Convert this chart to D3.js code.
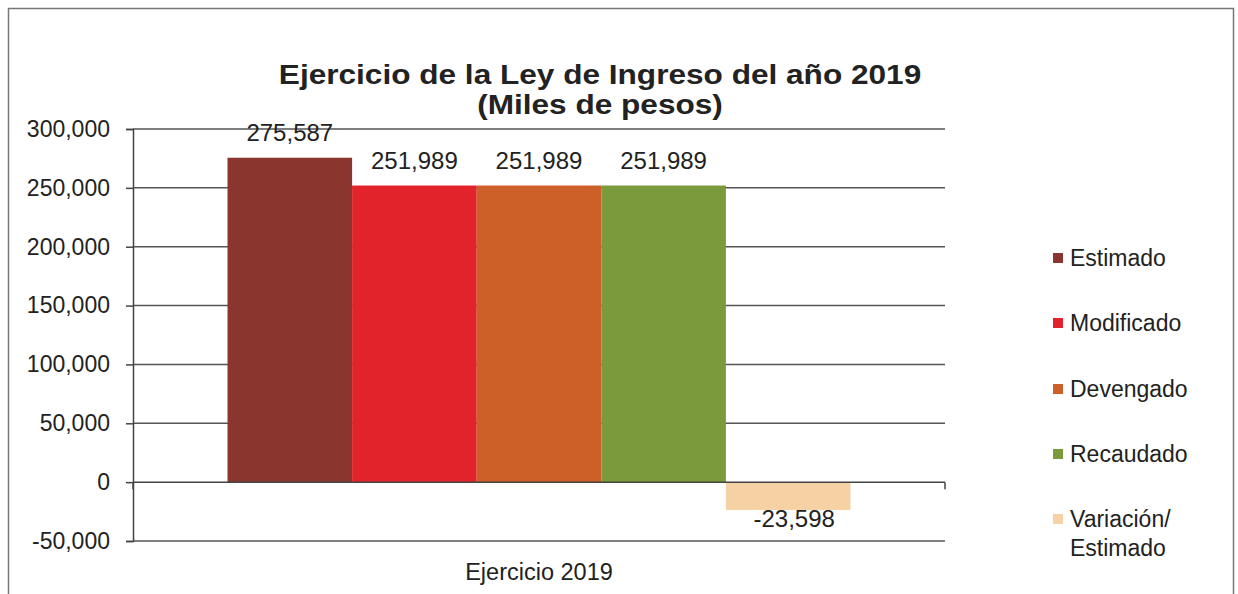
<!DOCTYPE html>
<html>
<head>
<meta charset="utf-8">
<script src="https://cdn.jsdelivr.net/npm/d3@7"></script>
<style>
  html, body { margin: 0; padding: 0; background: #fff; }
  svg text { font-family: "Liberation Sans", Arial, sans-serif; fill: #222; }
</style>
</head>
<body>
<svg id="chart" width="1238" height="594"></svg>
<script>
// ---- data ----
const categories = ["Ejercicio 2019"];
const seriesNames = ["Estimado", "Modificado", "Devengado", "Recaudado", "Variación/ Estimado"];
const seriesValues = [275587, 251989, 251989, 251989, -23598];
const seriesColors = ["#8a362e", "#e2232c", "#cd5f29", "#7b9a3b", "#f6d1a4"];
const yTicks = [-50000, 0, 50000, 100000, 150000, 200000, 250000, 300000];
const titleLines = ["Ejercicio de la Ley de Ingreso del año 2019", "(Miles de pesos)"];

const svg = d3.select("#chart");
const locale = d3.formatLocale({ decimal: ".", thousands: ",", grouping: [3], currency: ["$", ""], minus: "-" });
const fmt = locale.format(",");

// frame
svg.append("rect").attr("x", 8.5).attr("y", 8.5).attr("width", 1225).attr("height", 600)
  .attr("fill", "none").attr("stroke", "#777").attr("stroke-width", 1.5);

const plot = { left: 133, right: 945, top: 129, bottom: 541 };

const y = d3.scaleLinear().domain([-50000, 300000]).range([plot.bottom, plot.top]);
const x0 = d3.scaleBand().domain(categories).range([plot.left, plot.right])
  .paddingInner(0).paddingOuter(0.1517);
const x1 = d3.scaleBand().domain(seriesNames).range([0, x0.bandwidth()]).padding(0);

// gridlines
const grid = svg.append("g");
grid.selectAll("line").data(yTicks.filter(t => t !== 0)).join("line")
  .attr("x1", plot.left).attr("x2", plot.right)
  .attr("y1", d => y(d)).attr("y2", d => y(d))
  .attr("stroke", "#555").attr("stroke-width", 1.5);

// y axis
const yAxis = svg.append("g").attr("transform", `translate(${plot.left},0)`)
  .call(d3.axisLeft(y).tickValues(yTicks).tickFormat(fmt).tickSize(7).tickPadding(16));
yAxis.select(".domain").attr("stroke", "#444").attr("stroke-width", 1.5);
yAxis.selectAll(".tick line").attr("stroke", "#444").attr("stroke-width", 1.5);
yAxis.selectAll(".tick text").attr("font-size", 23).attr("fill", "#222")
  .attr("font-family", "Liberation Sans, Arial, sans-serif");

// bars
const g = svg.append("g");
categories.forEach(cat => {
  g.selectAll("rect.bar").data(seriesNames.map((s, i) => ({ s, v: seriesValues[i], c: seriesColors[i] })))
    .join("rect").attr("class", "bar")
    .attr("x", d => x0(cat) + x1(d.s))
    .attr("width", x1.bandwidth())
    .attr("y", d => y(Math.max(0, d.v)))
    .attr("height", d => Math.abs(y(d.v) - y(0)))
    .attr("fill", d => d.c);

  g.selectAll("text.lbl").data(seriesNames.map((s, i) => ({ s, v: seriesValues[i] })))
    .join("text").attr("class", "lbl")
    .attr("x", d => x0(cat) + x1(d.s) + x1.bandwidth() / 2 + (d.v < 0 ? 6 : 0))
    .attr("y", d => d.v >= 0 ? y(d.v) - 17 : y(d.v) + 17)
    .attr("text-anchor", "middle").attr("font-size", 24)
    .text(d => fmt(d.v));
});

// category axis at zero
svg.append("line").attr("x1", plot.left).attr("x2", plot.right)
  .attr("y1", y(0)).attr("y2", y(0)).attr("stroke", "#444").attr("stroke-width", 1.5);
[plot.left, plot.right].forEach(px => {
  svg.append("line").attr("x1", px).attr("x2", px).attr("y1", y(0)).attr("y2", y(0) + 7)
    .attr("stroke", "#444").attr("stroke-width", 1.5);
});
svg.append("text").attr("x", x0(categories[0]) + x0.bandwidth() / 2).attr("y", 580)
  .attr("text-anchor", "middle").attr("font-size", 23.5).text(categories[0]);

// title
titleLines.forEach((line, i) => {
  svg.append("text")
    .attr("transform", `translate(600,${84 + i * 30}) scale(1.17,1)`)
    .attr("text-anchor", "middle")
    .attr("font-size", 27).attr("font-weight", "bold").attr("fill", "#3a3a3a").text(line);
});

// legend
const legendY = [258, 323, 389, 454, 519];
const leg = svg.append("g");
seriesNames.forEach((s, i) => {
  leg.append("rect").attr("x", 1053).attr("y", legendY[i] - 5).attr("width", 10).attr("height", 10)
    .attr("fill", seriesColors[i]);
  const parts = s.split(" ");
  const t = leg.append("text").attr("x", 1070).attr("y", legendY[i] + 8).attr("font-size", 23);
  parts.forEach((p, j) => {
    t.append("tspan").attr("x", 1070).attr("dy", j === 0 ? 0 : 29).text(p);
  });
});
</script>
</body>
</html>
